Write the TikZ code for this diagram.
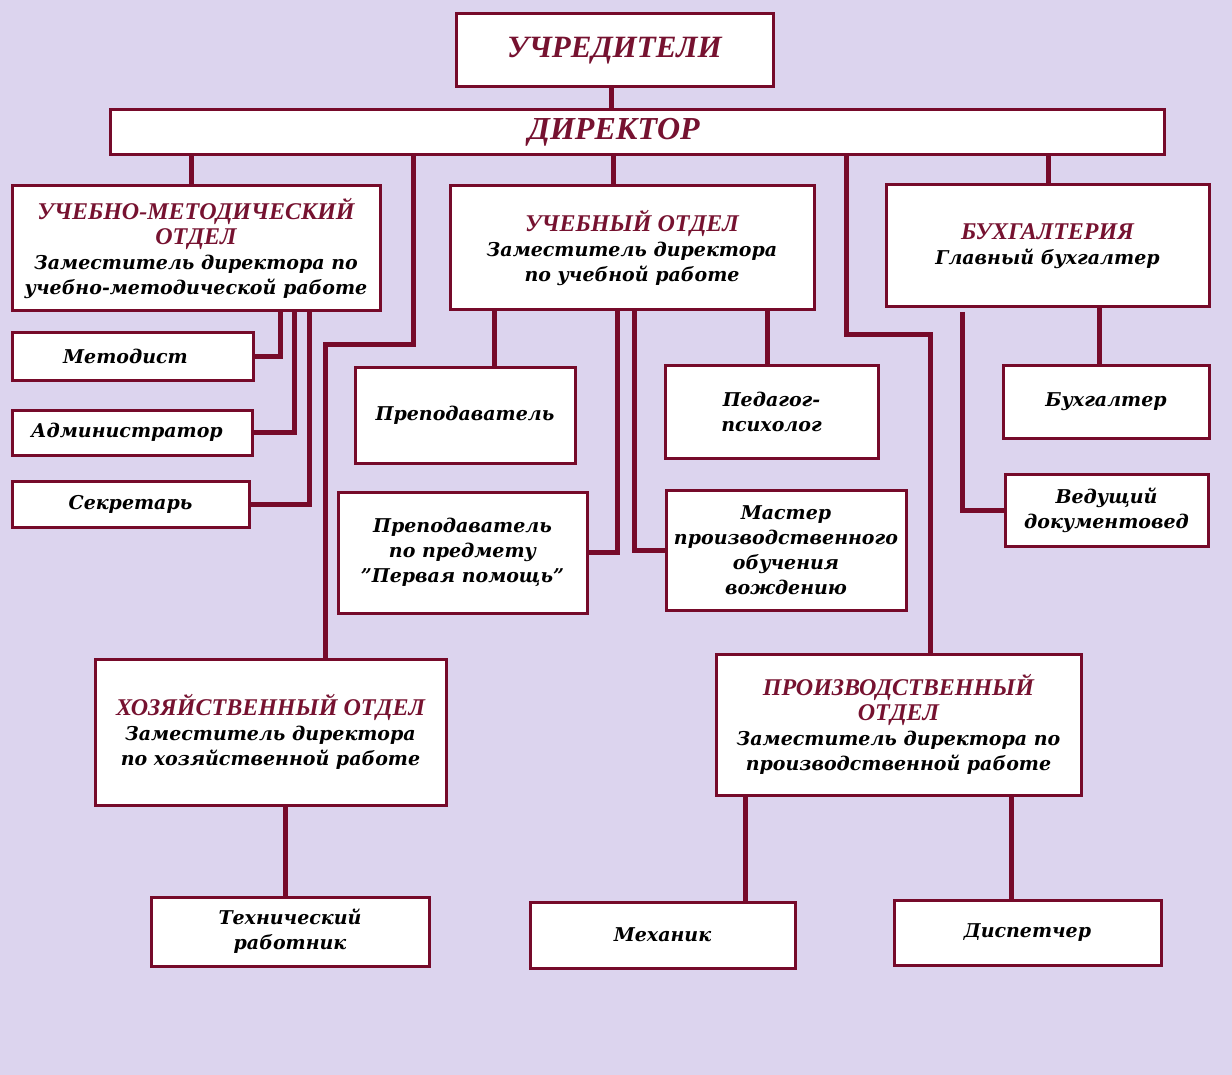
\documentclass[tikz,border=0pt]{standalone}
\usepackage{fontspec}
\setmainfont{DejaVu Serif}
\newfontfamily\headfont{Liberation Serif}
\usetikzlibrary{backgrounds}
\definecolor{bgc}{HTML}{DCD4EE}
\definecolor{framec}{HTML}{760A2A}
\definecolor{headc}{HTML}{761230}
\newcommand\bodyf{\fontsize{19}{25}\selectfont\bfseries\itshape}
\newcommand\hd[1]{{\headfont\fontsize{24}{25}\selectfont\bfseries\itshape\color{headc}#1}}
\tikzset{
  box/.style={draw=framec, line width=3pt, fill=white, inner sep=0pt, align=center, font=\bodyf},
  conn/.style={draw=framec, line width=5pt},
}
\begin{document}
\begin{tikzpicture}[x=1pt,y=-1pt]
\useasboundingbox (0,0) rectangle (1232,1075);
% boxes
\node[box, minimum width=317, minimum height=73] (uchr) at (614.5,50.5) {\hd{\fontsize{31}{30}\selectfont УЧРЕДИТЕЛИ}};
\node[box, minimum width=1054, minimum height=45] (dir) at (637,132.5) {\hd{\fontsize{32}{30}\selectfont ДИРЕКТОР}\hspace*{46pt}};
\node[box, minimum width=368, minimum height=125] (um) at (196,248.5) {\hd{УЧЕБНО-МЕТОДИЧЕСКИЙ}\\\hd{ОТДЕЛ}\\Заместитель директора по\\учебно-методической работе};
\node[box, minimum width=241, minimum height=47] (metod) at (132.5,356.5) {Методист\hspace*{14pt}};
\node[box, minimum width=240, minimum height=45] (admin) at (132,432.5) {Администратор\hspace*{10pt}};
\node[box, minimum width=237, minimum height=46] (secr) at (130.5,504) {\raisebox{3pt}{Секретарь}};
\node[box, minimum width=364, minimum height=124] (ucheb) at (632,248) {\hd{УЧЕБНЫЙ ОТДЕЛ}\\Заместитель директора\\по учебной работе};
\node[box, minimum width=220, minimum height=95] (prep) at (465,415.5) {Преподаватель};
\node[box, minimum width=213, minimum height=92] (psych) at (771.5,412) {Педагог-\\психолог};
\node[box, minimum width=249, minimum height=121] (prep2) at (462.5,552.5) {Преподаватель\\по предмету\\\symbol{34}Первая помощь\symbol{34}};
\node[box, minimum width=240, minimum height=120] (master) at (786,550) {Мастер\\производственного\\обучения\\вождению};
\node[box, minimum width=323, minimum height=122] (buh) at (1047.5,246) {\hd{БУХГАЛТЕРИЯ}\\Главный бухгалтер};
\node[box, minimum width=206, minimum height=72] (buh2) at (1106,402) {Бухгалтер};
\node[box, minimum width=203, minimum height=72] (vdoc) at (1106.5,510) {Ведущий\\документовед};
\node[box, minimum width=351, minimum height=146] (hoz) at (270.5,732) {\hd{ХОЗЯЙСТВЕННЫЙ ОТДЕЛ}\\Заместитель директора\\по хозяйственной работе};
\node[box, minimum width=278, minimum height=69] (tech) at (290,931.5) {Технический\\работник};
\node[box, minimum width=365, minimum height=141] (proizv) at (898.5,724.5) {\hd{ПРОИЗВОДСТВЕННЫЙ}\\\hd{ОТДЕЛ}\\Заместитель директора по\\производственной работе};
\node[box, minimum width=265, minimum height=66] (mech) at (662.5,935) {Механик};
\node[box, minimum width=267, minimum height=65] (disp) at (1027.5,932.5) {Диспетчер};
% connector helper coordinates
\coordinate (a611) at (611,0);
\coordinate (a191) at (191,0);
\coordinate (a613) at (613,0);
\coordinate (a1048) at (1048,0);
\coordinate (a280) at (280,0);
\coordinate (a294) at (294,0);
\coordinate (a309) at (309,0);
\coordinate (a494) at (494,0);
\coordinate (a767) at (767,0);
\coordinate (a617) at (617,0);
\coordinate (a634) at (634,0);
\coordinate (a1099) at (1099,0);
\coordinate (a285) at (285,0);
\coordinate (a745) at (745,0);
\coordinate (a1011) at (1011,0);
\coordinate (k1) at (413,345);
\coordinate (k2) at (325,345);
\coordinate (k3) at (846,335);
\coordinate (k4) at (930,335);
\coordinate (b1) at (962,312);
\begin{scope}[on background layer]
\fill[bgc] (0,0) rectangle (1232,1075);
\draw[conn] (uchr.south -| a611) -- (dir.north -| a611);
\draw[conn] (dir.south -| a191) -- (um.north -| a191);
\draw[conn] (dir.south -| a613) -- (ucheb.north -| a613);
\draw[conn] (dir.south -| a1048) -- (buh.north -| a1048);
\draw[conn] (dir.south -| k1) -- (k1) -- (k2) -- (hoz.north -| k2);
\draw[conn] (dir.south -| k3) -- (k3) -- (k4) -- (proizv.north -| k4);
\draw[conn] (um.south -| a280) |- (metod.east);
\draw[conn] (um.south -| a294) |- (admin.east);
\draw[conn] (um.south -| a309) |- (secr.east);
\draw[conn] (ucheb.south -| a494) -- (prep.north -| a494);
\draw[conn] (ucheb.south -| a767) -- (psych.north -| a767);
\draw[conn] (ucheb.south -| a617) |- (prep2.east);
\draw[conn] (ucheb.south -| a634) |- (master.west);
\draw[conn] (buh.south -| a1099) -- (buh2.north -| a1099);
\draw[conn] (b1) |- (vdoc.west);
\draw[conn] (hoz.south -| a285) -- (tech.north -| a285);
\draw[conn] (proizv.south -| a745) -- (mech.north -| a745);
\draw[conn] (proizv.south -| a1011) -- (disp.north -| a1011);
\end{scope}
\end{tikzpicture}
\end{document}
